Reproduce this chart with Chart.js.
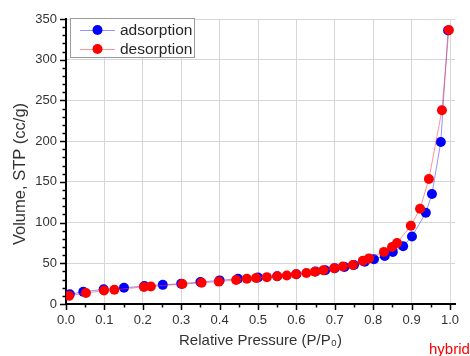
<!DOCTYPE html>
<html>
<head>
<meta charset="utf-8">
<script src="https://cdn.jsdelivr.net/npm/chart.js@4/dist/chart.umd.min.js"></script>
<style>
  html, body { margin: 0; padding: 0; background: #fff; }
  #wrap { position: relative; width: 470px; height: 356px; overflow: hidden; }
  #tag { position: absolute; left: 429px; top: 340px; font: 15px "Liberation Sans", Arial, sans-serif; color: #ff0000; }
</style>
</head>
<body>
<div id="wrap">
  <canvas id="c" width="470" height="356"></canvas>
  <div id="tag">hybrid</div>
</div>
<script>
// N2 isotherm: relative pressure P/P0 and adsorbed volume (cc/g, STP)
const adsorptionP = [0.010, 0.045, 0.098, 0.151, 0.204, 0.252, 0.300, 0.350, 0.400, 0.448, 0.500, 0.550, 0.600, 0.650, 0.675, 0.700, 0.725, 0.750, 0.778, 0.802, 0.830, 0.851, 0.878, 0.901, 0.937, 0.953, 0.976, 0.995];
const adsorptionV = [12, 15, 18, 20, 22, 23.5, 25, 27, 29, 31, 32.5, 34, 36.5, 40, 41.5, 44, 45.5, 48, 52, 55, 59, 64, 71, 83, 112, 135, 199, 336];

const desorptionP = [0.997, 0.979, 0.945, 0.922, 0.898, 0.862, 0.849, 0.828, 0.789, 0.773, 0.747, 0.721, 0.698, 0.670, 0.648, 0.626, 0.599, 0.575, 0.550, 0.523, 0.495, 0.471, 0.443, 0.398, 0.353, 0.303, 0.221, 0.203, 0.126, 0.099, 0.052, 0.008];
const desorptionV = [336.5, 238, 153.5, 117, 96, 75, 70, 64, 56, 53, 48, 46, 44, 41.5, 39.5, 38, 36.5, 35, 34, 33, 32, 31, 29.5, 27.5, 26, 24.5, 21.5, 21, 17.5, 16.5, 13.5, 10];

const xTicks = [0, 0.1, 0.2, 0.3, 0.4, 0.5, 0.6, 0.7, 0.8, 0.9, 1.0];
const yTicks = [0, 50, 100, 150, 200, 250, 300, 350];
const seriesNames = ['adsorption', 'desorption'];
const yTitle = 'Volume, STP (cc/g)';

const FONT = '"Liberation Sans", Arial, sans-serif';

function points(xs, ys) {
  return xs.map((x, i) => ({ x: x, y: ys[i] }));
}

// Major and minor tick marks drawn outside the axes
const axisTicks = {
  id: 'axisTicks',
  afterDraw(chart) {
    const { ctx, chartArea, scales } = chart;
    const xs = scales.x, ys = scales.y;
    ctx.save();
    ctx.strokeStyle = '#000';
    ctx.lineWidth = 1.5;
    ctx.beginPath();
    for (let v = 0; v <= 350; v += 10) {
      const py = Math.round(ys.getPixelForValue(v)) + 0.5;
      const len = (v % 50 === 0) ? 6 : 3.5;
      ctx.moveTo(chartArea.left, py);
      ctx.lineTo(chartArea.left - len, py);
    }
    for (let k = 0; k <= 20; k++) {
      const v = k * 0.05;
      const px = Math.round(xs.getPixelForValue(v)) + 0.5;
      const len = (k % 2 === 0) ? 6 : 3.5;
      ctx.moveTo(px, chartArea.bottom);
      ctx.lineTo(px, chartArea.bottom + len);
    }
    ctx.stroke();
    ctx.restore();
  }
};

// Rotated y-axis title, set a little below the plot's middle
const yAxisTitle = {
  id: 'yAxisTitle',
  afterDraw(chart) {
    const ctx = chart.ctx;
    ctx.save();
    ctx.translate(20.5, 174);
    ctx.rotate(-Math.PI / 2);
    ctx.font = '16.5px ' + FONT;
    ctx.fillStyle = '#333';
    ctx.textAlign = 'center';
    ctx.textBaseline = 'middle';
    ctx.fillText(yTitle, 0, 0);
    ctx.restore();
  }
};

// Boxed legend with a line-and-marker sample for each series
const boxedLegend = {
  id: 'boxedLegend',
  afterDraw(chart) {
    const ctx = chart.ctx;
    const ds = chart.data.datasets;
    const x0 = 70.5, y0 = 18.5, w = 124, h = 39;
    ctx.save();
    ctx.fillStyle = '#fff';
    ctx.fillRect(x0, y0, w, h);
    ctx.strokeStyle = '#9a9a9a';
    ctx.lineWidth = 1;
    ctx.strokeRect(x0, y0, w, h);
    ctx.font = '15.5px ' + FONT;
    ctx.textBaseline = 'middle';
    ctx.textAlign = 'left';
    seriesNames.forEach((name, i) => {
      const d = ds.find(s => s.label === name);
      const cy = 30 + i * 19;
      ctx.strokeStyle = d.borderColor;
      ctx.lineWidth = 1;
      ctx.beginPath();
      ctx.moveTo(80, cy + 0.5);
      ctx.lineTo(115, cy + 0.5);
      ctx.stroke();
      ctx.fillStyle = d.pointBackgroundColor;
      ctx.beginPath();
      ctx.arc(97.5, cy, 5, 0, Math.PI * 2);
      ctx.fill();
      ctx.fillStyle = '#262626';
      ctx.fillText(name, 120, cy + 1);
    });
    ctx.restore();
  }
};

new Chart(document.getElementById('c'), {
  type: 'line',
  data: {
    datasets: [
      {
        label: seriesNames[0],
        data: points(adsorptionP, adsorptionV),
        borderColor: 'rgba(60,60,255,0.55)',
        borderWidth: 1,
        pointRadius: 5,
        pointBorderWidth: 0,
        pointBackgroundColor: '#0000ff',
        pointBorderColor: '#0000ff',
        tension: 0,
        order: 1
      },
      {
        label: seriesNames[1],
        data: points(desorptionP, desorptionV),
        borderColor: 'rgba(255,60,60,0.55)',
        borderWidth: 1,
        pointRadius: 5,
        pointBorderWidth: 0,
        pointBackgroundColor: '#ff0000',
        pointBorderColor: '#ff0000',
        tension: 0,
        order: 0
      }
    ]
  },
  options: {
    responsive: false,
    devicePixelRatio: 1,
    animation: false,
    layout: { padding: { top: 19, right: 15, left: 0, bottom: 0 } },
    plugins: {
      legend: { display: false },
      tooltip: { enabled: false }
    },
    scales: {
      x: {
        type: 'linear',
        min: 0,
        max: 1.013,
        afterBuildTicks: s => { s.ticks = xTicks.map(v => ({ value: v })); },
        afterFit: s => { s.height = 52; },
        ticks: {
          callback: v => Number(v).toFixed(1),
          font: { family: FONT, size: 13 },
          color: '#333',
          padding: 9,
          maxRotation: 0
        },
        grid: { color: '#d6d6d6', lineWidth: 1, drawTicks: false },
        border: { color: '#000', width: 2 },
        title: {
          display: true,
          text: 'Relative Pressure (P/P\u2080)',
          font: { family: FONT, size: 15 },
          color: '#333',
          padding: { top: 0, bottom: 6 }
        }
      },
      y: {
        type: 'linear',
        min: 0,
        max: 350,
        afterBuildTicks: s => { s.ticks = yTicks.map(v => ({ value: v })); },
        afterFit: s => { s.width = 66; },
        ticks: {
          font: { family: FONT, size: 13 },
          color: '#333',
          padding: 9
        },
        grid: { color: '#d6d6d6', lineWidth: 1, drawTicks: false },
        border: { color: '#000', width: 2 },
        title: { display: false }
      }
    }
  },
  plugins: [axisTicks, yAxisTitle, boxedLegend]
});
</script>
</body>
</html>
